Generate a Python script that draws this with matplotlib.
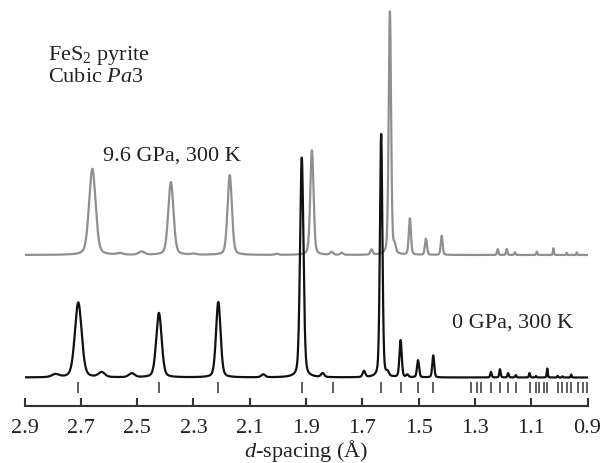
import numpy as np
import matplotlib
matplotlib.use("Agg")
import matplotlib.pyplot as plt

plt.rcParams['font.family'] = ['Liberation Serif', 'DejaVu Serif']
plt.rcParams['mathtext.fontset'] = 'custom'
plt.rcParams['mathtext.rm'] = 'Liberation Serif'
plt.rcParams['mathtext.it'] = 'Liberation Serif:italic'

# ---- data (d-spacing in Angstrom, relative intensity in %) ----
black_d = [2.790, 2.709, 2.626, 2.519, 2.4225, 2.2115, 2.052, 1.915, 1.841,
           1.694, 1.633, 1.610, 1.564, 1.540, 1.502, 1.448, 1.243, 1.211,
           1.182, 1.155, 1.106, 1.083, 1.043, 1.006, 0.989, 0.958]
black_I = [1.2, 30.8, 2.0, 1.6, 26.5, 31.0, 1.2, 90.3, 1.6,
           2.5, 100.0, 1.5, 15.2, 1.0, 7.0, 9.0, 2.3, 3.4,
           1.8, 1.0, 1.8, 0.6, 3.7, 0.7, 0.5, 1.2]

gray_d = [2.659, 2.561, 2.484, 2.380, 2.300, 2.171, 2.004, 1.879, 1.809,
          1.773, 1.667, 1.602, 1.585, 1.531, 1.474, 1.418, 1.219, 1.187,
          1.158, 1.080, 1.021, 0.974, 0.938]
gray_I = [35.4, 0.6, 1.3, 29.9, 0.4, 32.8, 0.4, 43.0, 1.2,
          0.8, 2.1, 100.0, 3.0, 14.9, 6.6, 7.9, 2.4, 2.5,
          1.1, 1.4, 2.8, 0.9, 1.1]

# calculated reflection positions (pyrite, Pa-3)
refl_d = [2.7085, 2.4225, 2.2115, 1.9150, 1.8057, 1.6330, 1.5636, 1.5024,
          1.4478, 1.3138, 1.2940, 1.2768, 1.2428, 1.2113, 1.1821, 1.1549,
          1.1057, 1.0834, 1.0710, 1.0550, 1.0425, 1.0060, 0.9890, 0.9740,
          0.9576, 0.9350, 0.9164, 0.9028]

xticks = [2.9, 2.7, 2.5, 2.3, 2.1, 1.9, 1.7, 1.5, 1.3, 1.1, 0.9]
xticklabels = ["2.9", "2.7", "2.5", "2.3", "2.1", "1.9", "1.7", "1.5", "1.3", "1.1", "0.9"]


def pattern(x, centers, heights, k=0.00165, eta=0.3):
    y = np.zeros_like(x)
    for c, h in zip(centers, heights):
        s = k * c ** 2
        g = np.exp(-0.5 * ((x - c) / s) ** 2)
        gam = s * 1.1774
        lor = 1.0 / (1.0 + ((x - c) / gam) ** 2)
        y += h * ((1 - eta) * g + eta * lor)
    return y


x = np.linspace(2.9, 0.9, 6000)
scale = 2.435
black_base = 28.5
gray_base = 151.0

yb = black_base + scale * pattern(x, black_d, black_I)
yg = gray_base + scale * pattern(x, gray_d, gray_I)

fig = plt.figure(figsize=(6.04, 4.63), dpi=100)
ax = fig.add_axes([24.5 / 604, 57 / 463, 563 / 604, 406 / 463])

ax.plot(x, yg, color='#8f8f8f', lw=1.6, solid_joinstyle='round')
ax.plot(x, yb, color='#111111', lw=1.6, solid_joinstyle='round')
ax.vlines(refl_d, 13, 24, color='#333333', lw=1.1)

ax.set_xlim(2.9, 0.9)
ax.set_ylim(0, 406)
for s in ['top', 'left', 'right']:
    ax.spines[s].set_visible(False)
ax.spines['bottom'].set_linewidth(1.5)
ax.spines['bottom'].set_color('#333333')
ax.set_yticks([])
ax.set_xticks(xticks)
ax.set_xticklabels(xticklabels)
ax.tick_params(axis='x', direction='in', length=5.5, width=1.5, color='#333333',
               labelsize=16, pad=9.5, labelcolor='#222222')
ax.set_xlabel('$d$-spacing (Å)', fontsize=16, color='#222222', labelpad=0)

tc = '#222222'
ax.text(2.8165, 346, 'FeS$_2$ pyrite', fontsize=16, color=tc, va='baseline', ha='left')
ax.text(2.8165, 324, 'Cubic $Pa3$', fontsize=16, color=tc, va='baseline', ha='left')
ax.text(2.621, 245, '9.6 GPa, 300 K', fontsize=16, color=tc, va='baseline', ha='left')
ax.text(1.3824, 78, '0 GPa, 300 K', fontsize=16, color=tc, va='baseline', ha='left')

fig.savefig('out.png', dpi=100)
